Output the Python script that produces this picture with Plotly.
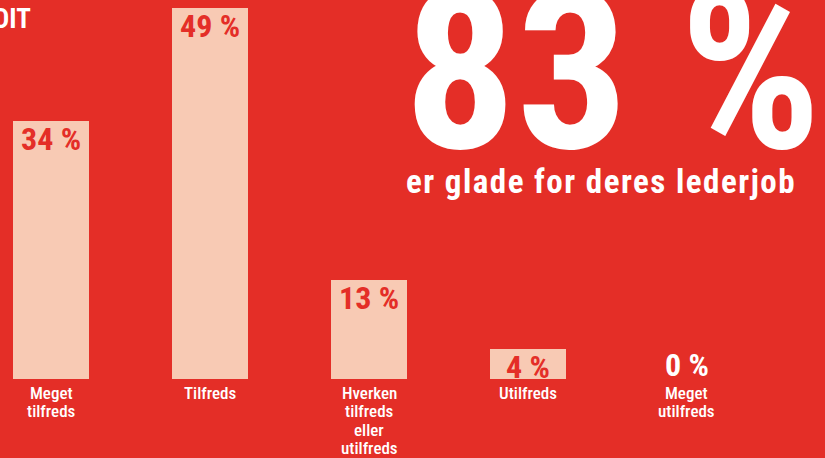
import plotly.graph_objects as go

categories = ["Meget<br>tilfreds", "Tilfreds", "Hverken<br>tilfreds<br>eller<br>utilfreds", "Utilfreds", "Meget<br>utilfreds"]
values = [34, 49, 13, 4, 0]
value_labels = ["34 %", "49 %", "13 %", "4 %", "0 %"]
headline = "83 %"
subtitle = "er glade for deres lederjob"
corner_text = "DIT"

RED = "#E42E27"
PEACH = "#F8CAB4"
WHITE = "#FFFFFF"
COND = "Roboto Condensed, Open Sans Condensed, sans-serif"

xs = list(range(len(categories)))

fig = go.Figure()
fig.add_trace(go.Bar(
    x=xs, y=values, width=0.478,
    marker=dict(color=PEACH, line=dict(width=0)),
    hoverinfo="skip",
))

annotations = []
for x, v, lab in zip(xs, values, value_labels):
    if v > 0:
        annotations.append(dict(
            x=x, y=v, xref="x", yref="y", text=lab, showarrow=False,
            yanchor="top", xanchor="center", yshift=3,
            font=dict(family=COND, size=32, color=RED, weight="bold"),
        ))
    else:
        annotations.append(dict(
            x=x, y=v, xref="x", yref="y", text=lab, showarrow=False,
            yanchor="bottom", xanchor="center", yshift=-7,
            font=dict(family=COND, size=32, color=WHITE, weight="bold"),
        ))

# category labels under the bars (manual line spacing)
for x, cat in zip(xs, categories):
    for i, line in enumerate(cat.split("<br>")):
        annotations.append(dict(
            x=x, y=0, xref="x", yref="y", text=line, showarrow=False,
            xanchor="center", yanchor="middle", yshift=-(13.5 + 18.6 * i),
            font=dict(family=COND, size=17, color=WHITE, weight=500),
        ))

annotations.append(dict(
    x=0.742, y=0.81, xref="paper", yref="paper", text=headline, showarrow=False,
    xanchor="center", yanchor="middle",
    font=dict(family=COND, size=222, color=WHITE, weight="bold"),
))
annotations.append(dict(
    x=0.729, y=0.52, xref="paper", yref="paper",
    text='<span style="letter-spacing:1.5px">' + subtitle + '</span>', showarrow=False,
    xanchor="center", yanchor="middle",
    font=dict(family=COND, size=33, color=WHITE, weight="bold"),
))
annotations.append(dict(
    x=0, y=1, xref="paper", yref="paper", text=corner_text, showarrow=False,
    xanchor="left", yanchor="top", xshift=-8, yshift=-1,
    font=dict(family=COND, size=27, color=WHITE, weight="bold"),
))

fig.update_layout(
    width=825, height=458,
    margin=dict(l=0, r=0, t=0, b=79, pad=0),
    paper_bgcolor=RED, plot_bgcolor=RED,
    showlegend=False,
    bargap=0,
    annotations=annotations,
    xaxis=dict(
        range=[-0.3208, 4.868], tickmode="array", tickvals=xs, ticktext=[""] * len(xs),
        showgrid=False, zeroline=False, showline=False, ticks="",
        fixedrange=True,
    ),
    yaxis=dict(
        range=[0, 50], visible=False, showgrid=False, zeroline=False, fixedrange=True,
    ),
)

fig.write_html("out.html", config={"displayModeBar": False},
               post_script="document.body.style.margin='0';")
